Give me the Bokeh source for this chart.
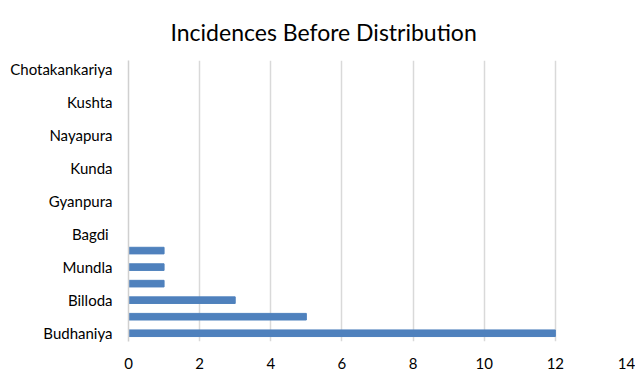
from bokeh.plotting import figure
from bokeh.models import Range1d, FixedTicker
from bokeh.embed import file_html
from bokeh.resources import INLINE

# Categories from bottom to top; blank entries are unlabelled rows in the source
categories = ["Budhaniya", "", "Billoda", "", "Mundla", "", "Bagdi ", "", "Gyanpura", "",
              "Kunda", "", "Nayapura", "", "Kushta", "", "Chotakankariya"]
values = [12, 5, 3, 1, 1, 1, 0, 0, 0, 0, 0, 0, 0, 0, 0, 0, 0]
x_ticks = [0, 2, 4, 6, 8, 10, 12, 14]
title_text = "Incidences Before Distribution"

positions = list(range(len(categories)))

FONT = "Lato"

p = figure(width=635, height=372, x_range=Range1d(0, 14),
           y_range=Range1d(-0.5, len(categories) - 0.5),
           output_backend="svg", toolbar_location=None,
           title=title_text,
           min_border_left=128, min_border_right=9, min_border_top=60, min_border_bottom=31)

p.hbar(y=positions, right=values, left=0, height=0.4, fill_color="#4f81bd", line_color="#4f81bd")

p.title.text_font = FONT
p.title.text_font_size = "23px"
p.title.text_font_style = "normal"
p.title.text_color = "#000000"
p.title.align = "left"
p.title.offset = 42
p.title.standoff = 30

p.outline_line_color = None
p.background_fill_color = "white"
p.border_fill_color = "white"

p.xaxis.ticker = FixedTicker(ticks=x_ticks)
p.xaxis.axis_line_color = None
p.xaxis.major_tick_line_color = None
p.xaxis.minor_tick_line_color = None
p.xaxis.major_tick_out = 0
p.xaxis.major_label_text_font = FONT
p.xaxis.major_label_text_font_size = "15px"
p.xaxis.major_label_text_color = "#000000"
p.xaxis.major_label_standoff = 16

p.yaxis.ticker = FixedTicker(ticks=positions)
p.yaxis.major_label_overrides = {i: c for i, c in zip(positions, categories)}
p.yaxis.axis_line_color = "#d0d0d0"
p.yaxis.axis_line_width = 1.5
p.yaxis.major_tick_line_color = None
p.yaxis.minor_tick_line_color = None
p.yaxis.major_tick_out = 0
p.yaxis.major_label_text_font = FONT
p.yaxis.major_label_text_font_size = "15px"
p.yaxis.major_label_text_color = "#000000"
p.yaxis.major_label_standoff = 16

p.ygrid.grid_line_color = None
p.xgrid.ticker = FixedTicker(ticks=x_ticks)
p.xgrid.grid_line_color = "#d9d9d9"
p.xgrid.grid_line_width = 1.5

open("out.html", "w").write(file_html(p, INLINE))
